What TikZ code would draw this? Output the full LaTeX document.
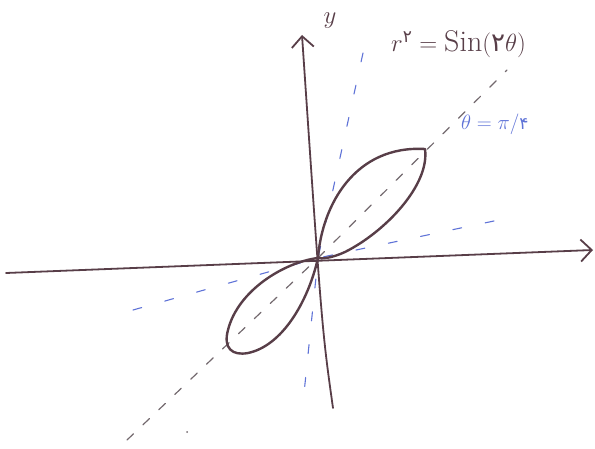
\documentclass[tikz,border=0pt]{standalone}
\usepackage{fontspec}
\newfontfamily\arabicfont[Script=Arabic]{DejaVu Sans}
\usetikzlibrary{arrows.meta}
\definecolor{ink}{RGB}{88,62,72}
\definecolor{pen}{RGB}{95,115,215}
\definecolor{pencil}{RGB}{115,105,110}
\begin{document}
\begin{tikzpicture}[x=1pt,y=-1pt, line cap=round, line join=round,
  axis/.style={draw=ink, line width=1.8pt},
  curve/.style={draw=ink, line width=2.4pt},
  guide/.style={draw=pencil, line width=1.2pt, dash pattern=on 9pt off 13pt},
  blueguide/.style={draw=pen, line width=1.1pt, dash pattern=on 9pt off 24pt},
  tip/.style={-{Straight Barb[length=11pt,width=22pt,line width=1.8pt]}},
  lbl/.style={inner sep=0pt, text=ink}]
\useasboundingbox (0,0) rectangle (595,449);
\coordinate (O) at (318,258);
\coordinate (xl) at (6,273);
\coordinate (xr) at (593,250);
\coordinate (yb) at (333,408);
\coordinate (yt) at (302,35);
\coordinate (gl) at (127,440);
\coordinate (gr) at (507,70);
\coordinate (bvt) at (363,53);
\coordinate (bvb) at (303,403);
\coordinate (bhl) at (133,310);
\coordinate (bhr) at (513,217);
% guides
\draw[guide] (gl) -- (O) -- (gr);
\draw[blueguide] (bvt) -- (O) -- (bvb);
\draw[blueguide] (bhl) -- (O) -- (bhr);
% axes
\draw[axis, tip] (xl) -- (xr);
\draw[axis, tip] (yb) .. controls (322,330) .. (yt);
% lobes
\coordinate (T1) at (425,149);
\draw[curve] (O) .. controls (322,205) and (355,145) .. (T1)
  .. controls (430,185) and (385,232) .. (345,252)
  .. controls (332,258) and (322,259) .. (O);
\draw[curve] (O) .. controls (285,262) and (238,290) .. (228,330)
  .. controls (223,348) and (232,356) .. (248,353)
  .. controls (282,346) and (308,302) .. (O);
% stray dot
\fill[pencil] (187,432) circle (1pt);
% labels
\node[lbl, font=\fontsize{32}{32}\selectfont] (ylab) at (330,21) {$y$};
\node[lbl, font=\fontsize{30}{30}\selectfont, anchor=west] (eq) at (391,44)
  {$r^{\mbox{\arabicfont\fontsize{17}{17}\selectfont ۲}}=\mathrm{Sin}(\mbox{\arabicfont\fontsize{26}{26}\selectfont ۲}\theta)$};
\node[lbl, text=pen, font=\fontsize{22}{22}\selectfont, anchor=west] (th) at (461,124)
  {$\theta=\pi/$\mbox{\arabicfont\fontsize{17}{17}\selectfont ۴}};
\end{tikzpicture}
\end{document}
